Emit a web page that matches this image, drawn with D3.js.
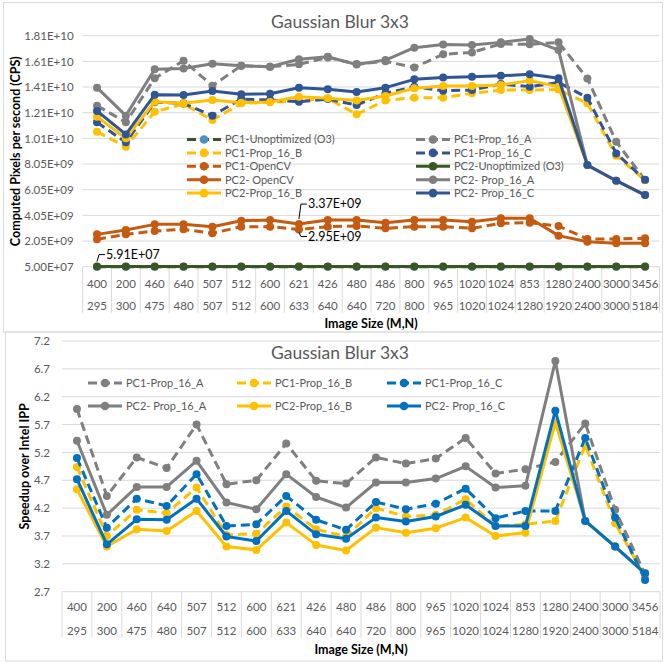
<!DOCTYPE html>
<html lang="en">
<head>
<meta charset="utf-8">
<title>Gaussian Blur 3x3</title>
<script src="https://cdn.jsdelivr.net/npm/d3@7"></script>
<style>
  body { margin: 0; background: #fff; }
  text { font-family: Lato, "Open Sans", sans-serif; }
</style>
</head>
<body>
<script>

// image sizes (M on first row, N on second row)
var sizeM = ["400","200","460","640","507","512","600","621","426","480","486","800","965","1020","1024","853","1280","2400","3000","3456"];
var sizeN = ["295","300","475","480","507","512","600","633","640","640","720","800","965","1020","1024","1280","1920","2400","3000","5184"];

// computed pixels per second
var pc1Unopt = [5.50e7,5.48e7,5.52e7,5.50e7,5.49e7,5.51e7,5.50e7,5.52e7,5.50e7,5.49e7,5.50e7,5.51e7,5.50e7,5.50e7,5.49e7,5.50e7,5.48e7,5.47e7,5.46e7,5.45e7];
var pc1A = [1.260e10,1.130e10,1.473e10,1.610e10,1.415e10,1.571e10,1.563e10,1.582e10,1.636e10,1.584e10,1.605e10,1.558e10,1.660e10,1.675e10,1.740e10,1.738e10,1.753e10,1.472e10,0.979e10,0.680e10];
var pc1B = [1.057e10,0.940e10,1.213e10,1.273e10,1.148e10,1.278e10,1.286e10,1.296e10,1.317e10,1.192e10,1.301e10,1.322e10,1.322e10,1.356e10,1.382e10,1.382e10,1.385e10,1.278e10,0.870e10,0.678e10];
var pc1C = [1.130e10,0.974e10,1.286e10,1.278e10,1.182e10,1.311e10,1.304e10,1.291e10,1.311e10,1.265e10,1.356e10,1.408e10,1.376e10,1.382e10,1.428e10,1.408e10,1.441e10,1.322e10,0.888e10,0.682e10];
var pc1OpenCV = [0.218e10,0.257e10,0.283e10,0.296e10,0.265e10,0.317e10,0.317e10,0.295e10,0.317e10,0.322e10,0.304e10,0.317e10,0.317e10,0.304e10,0.343e10,0.348e10,0.322e10,0.221e10,0.221e10,0.226e10];
var pc2Unopt = [5.91e7,5.90e7,5.92e7,5.91e7,5.90e7,5.91e7,5.92e7,5.91e7,5.90e7,5.91e7,5.90e7,5.91e7,5.92e7,5.91e7,5.90e7,5.91e7,5.89e7,5.88e7,5.87e7,5.86e7];
var pc2OpenCV = [0.257e10,0.291e10,0.335e10,0.335e10,0.317e10,0.363e10,0.369e10,0.337e10,0.369e10,0.369e10,0.348e10,0.369e10,0.369e10,0.356e10,0.382e10,0.382e10,0.247e10,0.200e10,0.187e10,0.187e10];
var pc2A = [1.400e10,1.182e10,1.543e10,1.550e10,1.587e10,1.571e10,1.563e10,1.621e10,1.641e10,1.580e10,1.615e10,1.712e10,1.737e10,1.732e10,1.753e10,1.779e10,1.693e10,0.797e10,0.675e10,0.563e10];
var pc2B = [1.174e10,1.005e10,1.291e10,1.278e10,1.304e10,1.283e10,1.288e10,1.330e10,1.317e10,1.300e10,1.335e10,1.395e10,1.413e10,1.413e10,1.421e10,1.455e10,1.408e10,0.797e10,0.675e10,0.563e10];
var pc2C = [1.218e10,1.036e10,1.345e10,1.343e10,1.374e10,1.348e10,1.353e10,1.400e10,1.387e10,1.366e10,1.400e10,1.465e10,1.480e10,1.486e10,1.493e10,1.504e10,1.473e10,0.797e10,0.675e10,0.563e10];
var cpsTicks = [5.0e7,2.05e9,4.05e9,6.05e9,8.05e9,1.005e10,1.205e10,1.405e10,1.605e10,1.805e10];

// speedup over Intel IPP
var spd1A = [5.98,4.42,5.11,4.92,5.70,4.63,4.70,5.36,4.69,4.64,5.11,5.00,5.09,5.46,4.82,4.90,5.03,5.72,4.17,3.01];
var spd1B = [4.94,3.70,4.17,4.11,4.57,3.72,3.74,4.23,3.82,3.69,4.20,4.05,4.08,4.36,3.88,3.91,3.97,5.33,3.93,2.96];
var spd1C = [5.10,3.85,4.37,4.24,4.81,3.88,3.91,4.42,3.99,3.81,4.31,4.18,4.28,4.55,4.02,4.15,4.15,5.46,4.03,2.91];
var spd2A = [5.41,4.08,4.58,4.58,5.05,4.30,4.18,4.81,4.40,4.21,4.66,4.66,4.73,4.95,4.57,4.60,6.84,3.97,3.51,3.03];
var spd2B = [4.54,3.51,3.82,3.79,4.15,3.51,3.45,3.94,3.54,3.44,3.85,3.76,3.84,4.03,3.70,3.76,5.74,3.97,3.51,3.03];
var spd2C = [4.72,3.55,4.00,3.99,4.37,3.69,3.61,4.15,3.73,3.65,4.03,3.96,4.05,4.26,3.88,3.88,5.95,3.97,3.51,3.03];
var spdTicks = [2.7,3.2,3.7,4.2,4.7,5.2,5.7,6.2,6.7,7.2];

var grey = "#7f7f7f", yellow = "#ffc000", navy = "#2f5597", blue = "#0070c0",
    orange = "#c55a11", green = "#385723";

function fmtE(v) {
  var s = v.toExponential(2).split("e");
  var e = +s[1];
  return s[0] + "E" + (e < 0 ? "-" : "+") + (Math.abs(e) < 10 ? "0" : "") + Math.abs(e);
}

var svg = d3.select("body").append("svg")
    .attr("width", 666).attr("height", 662);

// chart frames
svg.append("rect").attr("x", 3.5).attr("y", 2.5).attr("width", 659).attr("height", 329.5)
    .attr("fill", "none").attr("stroke", "#d9d9d9");
svg.append("rect").attr("x", 5.5).attr("y", 332).attr("width", 657).attr("height", 329)
    .attr("fill", "none").attr("stroke", "#d9d9d9");

function lineChart(o) {
  var g = svg.append("g");
  var n = sizeM.length;
  var x = d3.scaleBand().domain(d3.range(n)).range([o.left, o.right]);
  var y = d3.scaleLinear().domain(o.domain).range([o.bottom, o.top]);
  var cx = function(i) { return x(i) + x.bandwidth() / 2; };

  // gridlines
  g.append("g").selectAll("line").data(o.ticks).join("line")
      .attr("x1", o.left).attr("x2", o.right)
      .attr("y1", function(d) { return y(d); }).attr("y2", function(d) { return y(d); })
      .attr("stroke", "#d9d9d9").attr("stroke-width", 1);

  // y axis labels
  var ya = g.append("g").attr("transform", "translate(" + o.left + ",0)")
      .call(d3.axisLeft(y).tickValues(o.ticks).tickFormat(o.format).tickSize(0).tickPadding(o.pad));
  ya.select(".domain").remove();
  ya.selectAll("text").attr("fill", "#595959").style("font-size", "11.5px").style("font-family", null);

  // category table below the axis
  g.append("g").selectAll("line").data(d3.range(n + 1)).join("line")
      .attr("x1", function(i) { return o.left + i * x.bandwidth(); })
      .attr("x2", function(i) { return o.left + i * x.bandwidth(); })
      .attr("y1", o.bottom).attr("y2", o.bottom + 46)
      .attr("stroke", "#d9d9d9");

  [[sizeM, o.row1], [sizeN, 39]].forEach(function(r) {
    var xa = g.append("g").attr("transform", "translate(0," + o.bottom + ")")
        .call(d3.axisBottom(x).tickFormat(function(i) { return r[0][i]; }).tickSize(0));
    xa.select(".domain").remove();
    xa.selectAll("text").attr("y", r[1]).attr("dy", "0.35em")
        .attr("fill", "#595959").style("font-size", "11.5px").style("font-family", null);
  });

  g.append("text").attr("x", (o.left + o.right) / 2).attr("y", o.bottom + o.xTitle)
      .attr("text-anchor", "middle").attr("dy", "0.35em")
      .style("font-size", "12.5px").style("font-weight", "bold").text("Image Size (M,N)");

  g.append("text").attr("transform", "translate(" + o.yTitle + "," + (o.top + o.bottom) / 2 + ") rotate(-90)")
      .attr("text-anchor", "middle").attr("dy", "0.35em")
      .style("font-size", "12.5px").style("font-weight", "bold").text(o.ylabel);

  g.append("text").attr("x", 340).attr("y", o.titleY).attr("text-anchor", "middle")
      .attr("dy", "0.35em").attr("fill", "#595959").style("font-size", "17.5px")
      .text("Gaussian Blur 3x3");

  // legend
  o.series.forEach(function(s, k) {
    var lx = o.legX[k % o.legX.length];
    var ly = o.legY + Math.floor(k / o.legX.length) * o.legStep;
    var lg = g.append("g");
    lg.append("line").attr("x1", lx).attr("x2", lx + 34).attr("y1", ly).attr("y2", ly)
        .attr("stroke", s.color).attr("stroke-width", 3)
        .attr("stroke-dasharray", s.dash ? "9,4" : null);
    lg.append("circle").attr("cx", lx + 17).attr("cy", ly).attr("r", 4.3)
        .attr("fill", s.marker || s.color);
    lg.append("text").attr("x", lx + 38).attr("y", ly).attr("dy", "0.35em")
        .attr("fill", "#595959").style("font-size", "11px").text(s.name);
  });

  // series
  var line = d3.line().x(function(d, i) { return cx(i); }).y(function(d) { return y(d); });
  o.series.forEach(function(s) {
    g.append("path").datum(s.values).attr("d", line)
        .attr("fill", "none").attr("stroke", s.color).attr("stroke-width", 3)
        .attr("stroke-linejoin", "round")
        .attr("stroke-dasharray", s.dash ? "9,5" : null);
    g.append("g").selectAll("circle").data(s.values).join("circle")
        .attr("cx", function(d, i) { return cx(i); })
        .attr("cy", function(d) { return y(d); })
        .attr("r", 4).attr("fill", s.marker || s.color);
  });

  return { x: cx, y: y, g: g };
}

var cpsChart = lineChart({
  left: 82.6, right: 659.5, top: 35.7, bottom: 266.7,
  domain: [5.0e7, 1.805e10], ticks: cpsTicks, format: fmtE, pad: 9,
  row1: 17.5, xTitle: 57, yTitle: 16, titleY: 22,
  ylabel: "Computed Pixels per second (CPS)",
  legX: [187, 416], legY: 139.5, legStep: 13.4,
  series: [
    { name: "PC1-Unoptimized (O3)", values: pc1Unopt, color: green, dash: true, marker: "#4f8fc4" },
    { name: "PC1-Prop_16_A", values: pc1A, color: grey, dash: true },
    { name: "PC1-Prop_16_B", values: pc1B, color: yellow, dash: true },
    { name: "PC1-Prop_16_C", values: pc1C, color: navy, dash: true },
    { name: "PC1-OpenCV", values: pc1OpenCV, color: orange, dash: true },
    { name: "PC2-Unoptimized (O3)", values: pc2Unopt, color: green },
    { name: "PC2- OpenCV", values: pc2OpenCV, color: orange },
    { name: "PC2- Prop_16_A", values: pc2A, color: grey },
    { name: "PC2-Prop_16_B", values: pc2B, color: yellow },
    { name: "PC2- Prop_16_C", values: pc2C, color: navy }
  ]
});

// data labels with leader lines
[
  { i: 0, v: pc2Unopt[0], dy: -12, start: -5 },
  { i: 7, v: pc2OpenCV[7], dy: -20, start: -5 },
  { i: 7, v: pc1OpenCV[7], dy: 7, start: 3 }
].forEach(function(l) {
  var px = cpsChart.x(l.i), py = cpsChart.y(l.v);
  cpsChart.g.append("path")
      .attr("d", "M" + px + "," + (py + l.start) + "L" + (px + 2) + "," + (py + l.dy) + "L" + (px + 8) + "," + (py + l.dy))
      .attr("fill", "none").attr("stroke", "#000").attr("stroke-width", 1);
  cpsChart.g.append("text").attr("x", px + 9).attr("y", py + l.dy).attr("dy", "0.35em")
      .style("font-size", "12.5px").attr("fill", "#000").text(fmtE(l.v));
});

lineChart({
  left: 62, right: 660, top: 341, bottom: 591.7,
  domain: [2.7, 7.2], ticks: spdTicks, format: d3.format(".1f"), pad: 12,
  row1: 15.6, xTitle: 57.5, yTitle: 25, titleY: 353,
  ylabel: "Speedup over Intel IPP",
  legX: [88, 237, 387], legY: 383, legStep: 23,
  series: [
    { name: "PC1-Prop_16_A", values: spd1A, color: grey, dash: true },
    { name: "PC1-Prop_16_B", values: spd1B, color: yellow, dash: true },
    { name: "PC1-Prop_16_C", values: spd1C, color: blue, dash: true },
    { name: "PC2- Prop_16_A", values: spd2A, color: grey },
    { name: "PC2-Prop_16_B", values: spd2B, color: yellow },
    { name: "PC2- Prop_16_C", values: spd2C, color: blue }
  ]
});

</script>
</body>
</html>
